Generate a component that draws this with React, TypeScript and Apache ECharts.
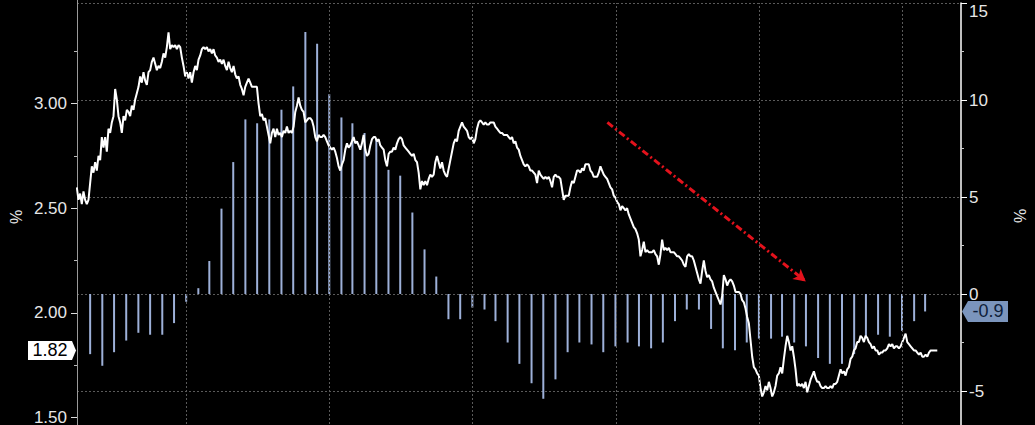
import React, { useEffect, useRef } from "react";
import * as echarts from "echarts";

// 10Y yield (%), sampled at a regular step along the time axis
const yieldValues: number[] = [
  // 2020-03 .. 2021-12
  2.60, 2.54, 2.57, 2.52, 2.58, 2.54, 2.52, 2.54, 2.62, 2.70,
  2.67, 2.72, 2.68, 2.75, 2.73, 2.84, 2.79, 2.84, 2.77, 2.88,
  2.86, 2.91, 2.94, 3.07, 3.02, 2.94, 2.91, 2.86, 2.94, 2.92,
  2.97, 2.96, 2.94, 2.99, 2.97, 3.02, 3.05, 3.08, 3.13, 3.10,
  3.15, 3.11, 3.09, 3.15, 3.16, 3.20, 3.22, 3.19, 3.16, 3.18,
  3.17, 3.20, 3.24, 3.22, 3.27, 3.34, 3.26, 3.28, 3.27, 3.28,
  3.26, 3.28, 3.27, 3.22, 3.18, 3.13, 3.15, 3.12, 3.15, 3.10,
  3.15, 3.18, 3.16, 3.21, 3.23, 3.26, 3.27, 3.26, 3.27, 3.25,
  3.26, 3.24, 3.26, 3.23, 3.22, 3.20, 3.21, 3.19, 3.21, 3.18,
  3.16, 3.20, 3.17, 3.15, 3.18, 3.14, 3.12, 3.13, 3.09, 3.07,
  3.04, 3.08, 3.10, 3.12, 3.10, 3.08, 3.08, 3.08, 3.08, 3.00,
  2.94, 2.95, 2.92, 2.93, 2.89, 2.85, 2.81, 2.86, 2.88, 2.84,
  2.88, 2.85, 2.86, 2.84, 2.87, 2.86, 2.89, 2.86, 2.87, 2.86,
  2.89, 2.96, 2.99, 3.03, 2.99,
  // 2021-12 .. 2023-07
  2.97, 2.96, 2.91, 2.92, 2.93, 2.93, 2.92, 2.89, 2.84, 2.82,
  2.85, 2.84, 2.84, 2.85, 2.84, 2.82, 2.80, 2.79, 2.78, 2.79,
  2.77, 2.74, 2.70, 2.68, 2.71, 2.73, 2.78, 2.81, 2.79, 2.80,
  2.82, 2.84, 2.81, 2.82, 2.80, 2.78, 2.81, 2.85, 2.78, 2.75,
  2.76, 2.80, 2.83, 2.84, 2.84, 2.82, 2.83, 2.80, 2.79, 2.78,
  2.73, 2.70, 2.76, 2.77, 2.77, 2.79, 2.78, 2.81, 2.83, 2.84,
  2.83, 2.80, 2.79, 2.78, 2.77, 2.76, 2.75, 2.76, 2.73, 2.72,
  2.67, 2.59, 2.63, 2.61, 2.63, 2.61, 2.64, 2.66, 2.65, 2.66,
  2.72, 2.75, 2.72, 2.69, 2.72, 2.68, 2.66, 2.65, 2.69, 2.73,
  2.77, 2.81, 2.83, 2.82, 2.87, 2.89, 2.91, 2.89, 2.88, 2.87,
  2.84, 2.83, 2.84, 2.81, 2.83, 2.88, 2.91, 2.92, 2.91, 2.90,
  2.91, 2.90, 2.90, 2.91, 2.91, 2.91, 2.89, 2.88, 2.87, 2.86,
  2.86, 2.85, 2.85, 2.85, 2.84, 2.83, 2.84, 2.81, 2.82, 2.79,
  2.78, 2.75, 2.73, 2.71, 2.70, 2.71, 2.70,
  // 2023-07 .. 2025-01
  2.68, 2.68, 2.67, 2.66, 2.62, 2.68, 2.66, 2.65, 2.64, 2.65,
  2.64, 2.65, 2.63, 2.60, 2.65, 2.66, 2.65, 2.65, 2.64, 2.59,
  2.54, 2.56, 2.56, 2.56, 2.60, 2.63, 2.62, 2.65, 2.68, 2.68,
  2.67, 2.69, 2.68, 2.71, 2.71, 2.71, 2.68, 2.67, 2.65, 2.65,
  2.65, 2.67, 2.70, 2.68, 2.66, 2.65, 2.64, 2.62, 2.60, 2.59,
  2.56, 2.55, 2.53, 2.52, 2.49, 2.51, 2.50, 2.49, 2.50, 2.47,
  2.45, 2.43, 2.41, 2.40, 2.38, 2.35, 2.27, 2.30, 2.34, 2.29,
  2.30, 2.29, 2.29, 2.29, 2.30, 2.28, 2.27, 2.23, 2.28, 2.35,
  2.30, 2.31, 2.30, 2.31, 2.29, 2.29, 2.29, 2.28, 2.27, 2.27,
  2.26, 2.25, 2.23, 2.22, 2.27, 2.28, 2.27, 2.27, 2.25, 2.22,
  2.19, 2.16, 2.14, 2.20, 2.25, 2.20, 2.17, 2.18, 2.16, 2.15,
  2.12, 2.10, 2.08, 2.06, 2.04, 2.08, 2.18, 2.16, 2.13, 2.15,
  2.16, 2.15, 2.13, 2.10, 2.10, 2.10, 2.09, 2.06, 2.05, 2.02,
  1.98, 1.95,
  // 2025-01 .. 2026-03
  1.87, 1.79, 1.74, 1.73, 1.71, 1.70, 1.64, 1.60, 1.62, 1.65,
  1.63, 1.67, 1.64, 1.60, 1.62, 1.65, 1.70, 1.71, 1.74, 1.71,
  1.78, 1.84, 1.89, 1.86, 1.82, 1.84, 1.79, 1.73, 1.65, 1.66,
  1.65, 1.66, 1.64, 1.67, 1.62, 1.65, 1.68, 1.70, 1.72, 1.69,
  1.67, 1.67, 1.65, 1.64, 1.64, 1.65, 1.64, 1.64, 1.65, 1.64,
  1.66, 1.66, 1.67, 1.70, 1.73, 1.71, 1.72, 1.70, 1.73, 1.74,
  1.78, 1.79, 1.82, 1.83, 1.86, 1.86, 1.89, 1.88, 1.86, 1.89,
  1.88, 1.86, 1.85, 1.83, 1.84, 1.82, 1.82, 1.80, 1.81, 1.81,
  1.82, 1.82, 1.83, 1.85, 1.84, 1.85, 1.83, 1.84, 1.84, 1.83,
  1.84, 1.86, 1.88, 1.90, 1.86, 1.85, 1.84, 1.83, 1.82, 1.82,
  1.81, 1.80, 1.81, 1.79, 1.79, 1.80, 1.79, 1.81, 1.82, 1.82,
  1.82, 1.82, 1.82,
];

// Monthly YoY (%), Apr 2020 .. Feb 2026, plotted at month end
const ppiValues: number[] = [
  -3.1, -3.7, -3.0, -2.4, -2.0, -2.1, -2.1, -1.5, -0.4,
  0.3, 1.7, 4.4, 6.8, 9.0, 8.8, 9.0, 9.5, 10.7, 13.5, 12.9, 10.3,
  9.1, 8.8, 8.3, 8.0, 6.4, 6.1, 4.2, 2.3, 0.9, -1.3, -1.3, -0.7,
  -0.8, -1.4, -2.5, -3.6, -4.6, -5.4, -4.4, -3.0, -2.5, -2.6, -3.0, -2.7,
  -2.5, -2.7, -2.8, -2.5, -1.4, -0.8, -0.8, -1.8, -2.8, -2.9, -2.5, -2.3,
  -2.3, -2.2, -2.5, -2.7, -3.3, -3.6, -3.6, -3.1, -2.2, -2.1, -2.2, -1.9,
  -1.4, -0.9,
];
const ppiFirstYear = 2020;
const ppiFirstMonth = 4; // April

const yearLines = [2021, 2022, 2023, 2024, 2025, 2026];
const lastYield = "1.82";
const lastPpi = "-0.9";
const arrowStart: [string, number] = ["2023-12-10", 2.91];
const arrowEnd: [string, number] = ["2025-04-28", 2.15];

const DAY = 86400000;
const axisStart = Date.UTC(2020, 2, 30);
const axisEnd = Date.UTC(2026, 4, 28);
const lineStart = Date.UTC(2020, 2, 29, 12);
const lineStepDays = 4.2445;

const FONT = "'Liberation Sans', Arial, sans-serif";

export default function App() {
  const ref = useRef<HTMLDivElement>(null);

  useEffect(() => {
    if (!ref.current) return;
    const chart = echarts.init(ref.current, undefined, { renderer: "svg" });

    const lineData = yieldValues.map((v, i) => [lineStart + i * lineStepDays * DAY, v]);
    const barData = ppiValues.map((v, i) => [
      Date.UTC(ppiFirstYear, ppiFirstMonth - 1 + i + 1, 0),
      v,
    ]);

    const option: any = {
      animation: false,
      backgroundColor: "#000",
      textStyle: { fontFamily: FONT },
      grid: [
        { left: 77, right: 74, top: -1, height: 523, containLabel: false, outerBoundsMode: "none" },
        { left: 77, right: 74, top: 3, height: 485, containLabel: false, outerBoundsMode: "none" },
      ],
      xAxis: [
        { type: "time", gridIndex: 0, min: axisStart, max: axisEnd, show: false },
        { type: "time", gridIndex: 1, min: axisStart, max: axisEnd, show: false },
      ],
      yAxis: [
        {
          type: "value",
          gridIndex: 0,
          position: "left",
          min: 1,
          max: 3.5,
          interval: 0.5,
          axisLine: { show: true, lineStyle: { color: "#9a9a9a", width: 1 } },
          axisTick: { show: true, length: 6, lineStyle: { color: "#dddddd" } },
          minorTick: { show: true, splitNumber: 2, length: 3, lineStyle: { color: "#bbbbbb" } },
          axisLabel: {
            color: "#e6e6e6",
            fontSize: 17,
            fontFamily: FONT,
            margin: 10,
            showMaxLabel: false,
            showMinLabel: false,
            formatter: (v: number) => v.toFixed(2),
          },
          splitLine: { show: false },
        },
        {
          type: "value",
          gridIndex: 1,
          position: "right",
          min: -10,
          max: 15,
          interval: 5,
          axisLine: { show: true, lineStyle: { color: "#ffffff", width: 1.5 } },
          axisTick: { show: true, length: 6, lineStyle: { color: "#ffffff" } },
          minorTick: { show: true, splitNumber: 2, length: 3, lineStyle: { color: "#cccccc" } },
          axisLabel: {
            color: "#e6e6e6",
            fontSize: 17,
            fontFamily: FONT,
            margin: 8,
            showMinLabel: false,
            verticalAlignMaxLabel: "top",
          },
          splitLine: { show: true, lineStyle: { color: "#5a5a5a", type: [2, 2], width: 1 } },
        },
      ],
      series: [
        {
          type: "bar",
          xAxisIndex: 1,
          yAxisIndex: 1,
          data: barData,
          barWidth: 2,
          itemStyle: { color: "#9db0d8" },
          z: 2,
          markLine: {
            silent: true,
            symbol: ["none", "none"],
            label: { show: false },
            lineStyle: { color: "#5a5a5a", type: [2, 2], width: 1 },
            data: yearLines.map((y) => ({ xAxis: Date.UTC(y, 0, 1) })),
          },
        },
        {
          type: "line",
          xAxisIndex: 0,
          yAxisIndex: 0,
          data: lineData,
          showSymbol: false,
          symbol: "none",
          lineStyle: { color: "#ffffff", width: 2 },
          z: 4,
          markLine: {
            silent: true,
            symbol: ["none", "arrow"],
            symbolSize: [10, 12],
            label: { show: false },
            lineStyle: { color: "#e3121c", width: 3, type: [7, 3, 2, 3] },
            data: [
              [
                { coord: [Date.parse(arrowStart[0] + "T00:00:00Z"), arrowStart[1]] },
                { coord: [Date.parse(arrowEnd[0] + "T00:00:00Z"), arrowEnd[1]] },
              ],
            ],
          },
        },
      ],
    };

    chart.setOption(option);

    const xL = chart.convertToPixel({ xAxisIndex: 0 }, axisStart) as number;
    const xR = chart.convertToPixel({ xAxisIndex: 0 }, axisEnd) as number;
    const y1 = chart.convertToPixel({ yAxisIndex: 0 }, parseFloat(lastYield)) as number;
    const y2 = chart.convertToPixel({ yAxisIndex: 1 }, parseFloat(lastPpi)) as number;

    const textStyle = (text: string, fill: string, size: number) => ({
      text,
      fill,
      font: `${size}px ${FONT}`,
      align: "center",
      verticalAlign: "middle",
      textAlign: "center",
      textVerticalAlign: "middle",
    });

    chart.setOption({
      graphic: [
        {
          type: "polygon",
          z: 100,
          shape: {
            points: [
              [xL - 49, y1 - 9.5],
              [xL - 5, y1 - 9.5],
              [xL - 1, y1],
              [xL - 5, y1 + 9.5],
              [xL - 49, y1 + 9.5],
            ],
          },
          style: { fill: "#ffffff" },
        },
        { type: "text", z: 101, x: xL - 27, y: y1, style: textStyle(lastYield, "#000000", 18) },
        {
          type: "polygon",
          z: 100,
          shape: {
            points: [
              [xR + 1, y2],
              [xR + 7, y2 - 10.5],
              [xR + 47, y2 - 10.5],
              [xR + 47, y2 + 10.5],
              [xR + 7, y2 + 10.5],
            ],
          },
          style: { fill: "#7b95bd" },
        },
        { type: "text", z: 101, x: xR + 27, y: y2, style: textStyle(lastPpi, "#0e1e3a", 18) },
        { type: "text", z: 101, x: 16, y: 217, rotation: Math.PI / 2, style: textStyle("%", "#e6e6e6", 16) },
        { type: "text", z: 101, x: 1020, y: 216, rotation: Math.PI / 2, style: textStyle("%", "#e6e6e6", 16) },
      ],
    });

    return () => chart.dispose();
  }, []);

  return (
    <div
      ref={ref}
      style={{ position: "fixed", left: 0, top: 0, width: 1035, height: 425, background: "#000" }}
    />
  );
}
